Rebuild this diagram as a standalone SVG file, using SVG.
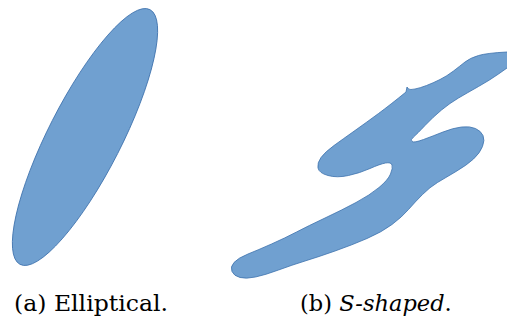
<svg xmlns="http://www.w3.org/2000/svg" width="507" height="324" viewBox="0 0 507 324">
<style>
.shape{fill:#70a0d0;stroke:#3e72ad;stroke-width:0.8}
</style>
<rect width="507" height="324" fill="#fff"/>
<g id="elliptical">
<ellipse class="shape" cx="85" cy="137" rx="143" ry="36.6" transform="rotate(-63 85 137)"/>
</g>
<g id="s-shaped">
<path class="shape" d="M 507,52 Q 487,53 478.5,55.5 Q 470,58 465,62 Q 460,66 453.5,71 Q 447,76 440,79.5 Q 433,83 426.5,85.5 Q 420,88 415,89 Q 410,90 408.5,89 L 407,87 L 406,92 Q 390,105 378.5,113.5 Q 367,122 355,130.5 Q 343,139 334,145.5 Q 325,152 321,157.5 Q 317,163 318,168 Q 319,173 328,175.5 Q 337,178 348.5,175.5 Q 360,173 370,168.5 Q 380,164 385.5,163 Q 391,162 392,165 Q 393,168 390.5,174 Q 388,180 379,187.5 Q 370,195 356,202.5 Q 342,210 325,218 Q 308,226 296.5,232 Q 285,238 271.5,244 Q 258,250 248,254 Q 238,258 234,262.5 Q 230,267 232,271.5 Q 234,276 240,277.5 Q 246,279 255.5,277 Q 265,275 278.5,270 Q 292,265 305,261 Q 318,257 335,251 Q 352,245 367,238.5 Q 382,232 392,224.5 Q 402,217 408.5,209.5 Q 415,202 422.5,194.5 Q 430,187 437.5,182.5 Q 445,178 456,171.5 Q 467,165 473.5,159 Q 480,153 482.5,146.5 Q 485,140 483,135.5 Q 481,131 475.5,128.5 Q 470,126 461.5,127 Q 453,128 443,132 Q 433,136 423.5,139.5 Q 414,143 412,141.5 Q 410,140 413.5,137 Q 417,134 425,125.5 Q 433,117 441.5,110 Q 450,103 458.5,98 Q 467,93 478.5,86.5 Q 490,80 498.5,74 L 507,68 L 512,65 L 512,50 Z"/>
</g>
<g id="captions" font-family="'DejaVu Serif', 'Times New Roman', serif" font-size="22.5" fill="#000">
<text x="14" y="311" textLength="154" lengthAdjust="spacingAndGlyphs">(a) Elliptical.</text>
<text x="300" y="311">(b) <tspan font-style="italic">S-shaped</tspan>.</text>
</g>
</svg>
